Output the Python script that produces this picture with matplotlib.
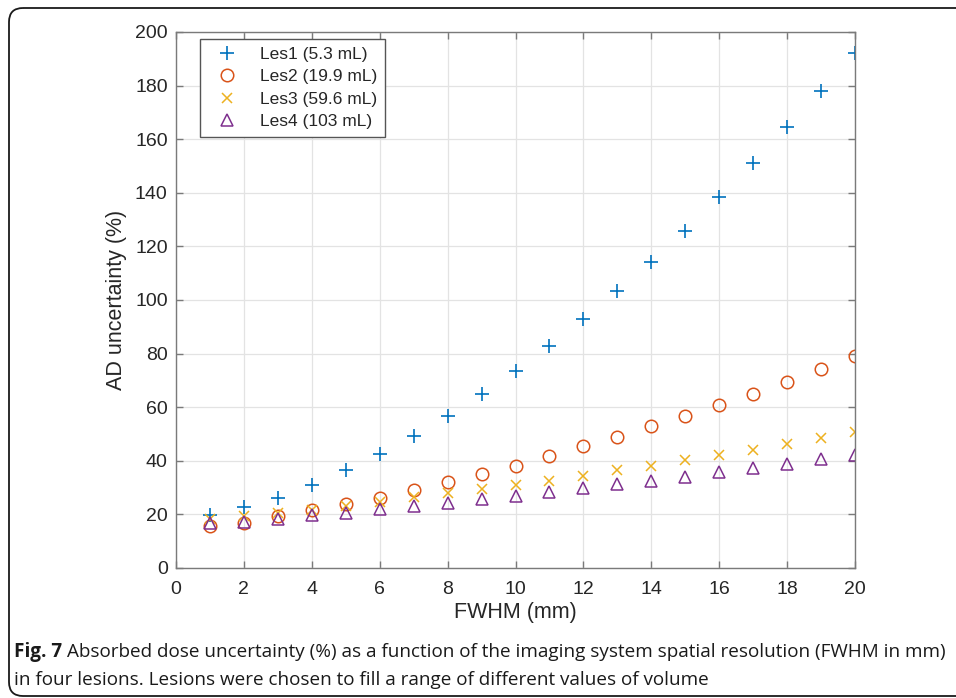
import matplotlib
matplotlib.use('Agg')
import matplotlib.pyplot as plt
from matplotlib.patches import FancyBboxPatch
import numpy as np

# data
fwhm = list(range(1, 21))
les1 = [19.7, 22.7, 26.3, 30.9, 36.4, 42.5, 49.3, 56.9, 65.0, 73.5,
        82.8, 92.8, 103.2, 114.3, 125.9, 138.5, 151.3, 164.4, 178.1, 192.3]
les2 = [15.6, 16.9, 19.4, 21.5, 24.0, 26.3, 29.2, 32.1, 35.2, 38.2,
        41.7, 45.4, 48.9, 52.9, 56.9, 60.9, 65.0, 69.4, 74.2, 79.2]
les3 = [18.4, 19.5, 20.4, 21.6, 23.2, 24.8, 26.6, 27.9, 29.4, 31.0,
        32.6, 34.4, 36.4, 38.2, 40.2, 42.2, 44.2, 46.4, 48.5, 50.9]
les4 = [16.8, 17.3, 18.2, 19.8, 20.7, 21.9, 23.1, 24.1, 25.6, 26.9,
        28.2, 29.8, 31.3, 32.6, 34.1, 35.8, 37.4, 38.9, 40.6, 42.3]
labels = ['Les1 (5.3 mL)', 'Les2 (19.9 mL)', 'Les3 (59.6 mL)', 'Les4 (103 mL)']
colors = ['#0072BD', '#D95319', '#EDB120', '#7E2F8E']

plt.rcParams['font.family'] = ['Liberation Sans', 'DejaVu Sans']

W, H = 956, 698
fig = plt.figure(figsize=(W / 100, H / 100), dpi=100)

# outer rounded frame
bg = fig.add_axes([0, 0, 1, 1])
bg.set_xlim(0, W)
bg.set_ylim(H, 0)
bg.axis('off')
bg.add_patch(FancyBboxPatch((9, 8), 1100, 688, boxstyle='round,pad=0,rounding_size=14',
                            fill=False, edgecolor='#1a1a1a', linewidth=1.3, clip_on=False))

ax = fig.add_axes([176 / W, 130 / H, 679 / W, 536 / H])
ax.plot(fwhm, les1, '+', color=colors[0], markersize=10, markeredgewidth=1.2, label=labels[0])
ax.plot(fwhm, les2, 'o', color=colors[1], markersize=9, markerfacecolor='none',
        markeredgewidth=1.1, label=labels[1])
ax.plot(fwhm, les3, 'x', color=colors[2], markersize=7.5, markeredgewidth=1.1, label=labels[2])
ax.plot(fwhm, les4, '^', color=colors[3], markersize=9, markerfacecolor='none',
        markeredgewidth=1.1, label=labels[3])

ax.set_xlim(0, 20)
ax.set_ylim(0, 200)
ax.set_xticks(np.arange(0, 21, 2))
ax.set_yticks(np.arange(0, 201, 20))
ax.grid(True, color='#e3e3e3', linewidth=0.9)
ax.set_axisbelow(True)
for s in ax.spines.values():
    s.set_color('#7a7a7a')
    s.set_linewidth(1.0)
ax.tick_params(direction='in', length=5, width=1.0, color='#7a7a7a', top=True, right=True,
               labelsize=14, labelcolor='#262626')
ax.tick_params(axis='x', pad=9)
ax.tick_params(axis='y', pad=6)
ax.set_xlabel('FWHM (mm)', fontsize=15.5, color='#262626', labelpad=3)
ax.set_ylabel('AD uncertainty (%)', fontsize=15.5, color='#262626', labelpad=6)

leg = ax.legend(loc='upper left', bbox_to_anchor=(0.035, 0.987), borderaxespad=0,
                fancybox=False, edgecolor='#555555', framealpha=1, fontsize=12.5,
                handletextpad=0.8, borderpad=0.45, labelspacing=0.42, handlelength=2.2)
leg.get_frame().set_linewidth(1.0)
for t in leg.get_texts():
    t.set_color('#262626')

# caption
cap_font = ['Open Sans', 'DejaVu Sans']
r = fig.canvas.get_renderer()
t1 = fig.text(14 / W, 1 - 652 / H, 'Fig. 7', fontsize=13.6, fontweight='bold',
              family=cap_font, va='center', ha='left', color='#1a1a1a')
bb = t1.get_window_extent(renderer=r)
fig.text((bb.x1 + 5) / W, 1 - 652 / H,
         'Absorbed dose uncertainty (%) as a function of the imaging system spatial resolution (FWHM in mm)',
         fontsize=13.6, family=cap_font, va='center', ha='left', color='#1a1a1a')
fig.text(14 / W, 1 - 680 / H,
         'in four lesions. Lesions were chosen to fill a range of different values of volume',
         fontsize=13.6, family=cap_font, va='center', ha='left', color='#1a1a1a')

fig.savefig('out.png', dpi=100)
